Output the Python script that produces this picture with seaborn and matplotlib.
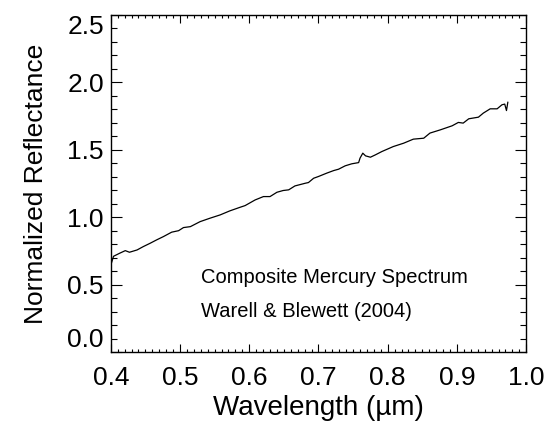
import numpy as np
import pandas as pd
import matplotlib
matplotlib.use("Agg")
import matplotlib.pyplot as plt
import seaborn as sns
from matplotlib.ticker import MultipleLocator

# Composite Mercury spectrum
wavelength = [0.400, 0.401, 0.404, 0.413, 0.421, 0.427, 0.438, 0.447, 0.457, 0.466,
              0.476, 0.488, 0.498, 0.505, 0.515, 0.529, 0.543, 0.558, 0.572, 0.587,
              0.594, 0.6085, 0.6205, 0.630, 0.640, 0.649, 0.657, 0.666, 0.681, 0.6855,
              0.693, 0.700, 0.712, 0.722, 0.729, 0.7385, 0.748, 0.758, 0.760, 0.764,
              0.768, 0.775, 0.782, 0.7915, 0.808, 0.823, 0.837, 0.852, 0.861, 0.876,
              0.893, 0.902, 0.909, 0.917, 0.931, 0.938, 0.948, 0.958, 0.965, 0.969,
              0.9715, 0.9735]
reflectance = [0.70, 0.66, 0.71, 0.733, 0.752, 0.740, 0.757, 0.782, 0.807, 0.831,
               0.856, 0.889, 0.900, 0.923, 0.930, 0.967, 0.992, 1.017, 1.047, 1.074,
               1.086, 1.128, 1.153, 1.153, 1.185, 1.198, 1.203, 1.232, 1.252, 1.257,
               1.289, 1.302, 1.327, 1.346, 1.356, 1.381, 1.396, 1.405, 1.438, 1.475,
               1.455, 1.445, 1.462, 1.487, 1.524, 1.549, 1.579, 1.586, 1.624, 1.648,
               1.678, 1.703, 1.698, 1.730, 1.742, 1.772, 1.804, 1.804, 1.834, 1.839,
               1.791, 1.854]

x_ticks = [0.4, 0.5, 0.6, 0.7, 0.8, 0.9, 1.0]
y_ticks = [0.0, 0.5, 1.0, 1.5, 2.0, 2.5]

df = pd.DataFrame({"Wavelength": wavelength, "Reflectance": reflectance})

sns.set_style("ticks")
plt.rcParams['font.family'] = ['Liberation Sans', 'DejaVu Sans']
plt.rcParams['text.color'] = 'black'
plt.rcParams['axes.labelcolor'] = 'black'
plt.rcParams['xtick.color'] = 'black'
plt.rcParams['ytick.color'] = 'black'

fig = plt.figure(figsize=(5.51, 4.26), dpi=100)
ax = fig.add_axes([0.201, 0.1737, 0.754, 0.7911])

sns.lineplot(data=df, x="Wavelength", y="Reflectance", ax=ax, color="black",
             linewidth=0.9, estimator=None, sort=False)

ax.set_xlim(0.4, 1.0)
ax.set_ylim(0.0, 2.5)
ax.set_xticks(x_ticks)
ax.set_yticks(y_ticks)
ax.set_xticklabels([f"{v:.1f}" for v in x_ticks])
ax.set_yticklabels([f"{v:.1f}" for v in y_ticks])
ax.xaxis.set_minor_locator(MultipleLocator(0.01))
ax.yaxis.set_minor_locator(MultipleLocator(0.1))

for s in ax.spines.values():
    s.set_visible(True)
    s.set_linewidth(1.0)
    s.set_color("black")

ax.tick_params(which="both", direction="in", top=True, right=True,
               color="black", labelcolor="black", width=0.8)
ax.tick_params(axis="x", which="major", length=6, labelsize=19, pad=10)
ax.tick_params(axis="x", which="minor", length=2.5)
ax.tick_params(axis="y", which="major", length=8, labelsize=19, pad=5)
ax.tick_params(axis="y", which="minor", length=4)

# IDL style: edge labels kept inside the axis range
ylabels = ax.get_yticklabels()
ylabels[0].set_verticalalignment("bottom")
ylabels[-1].set_verticalalignment("top")

ax.set_xlabel("Wavelength (µm)", fontsize=20, labelpad=4)
ax.set_ylabel("Normalized Reflectance", fontsize=19, labelpad=14)

ax.text(0.53, 0.55, "Composite Mercury Spectrum", fontsize=14.5, va="center", ha="left")
ax.text(0.53, 0.30, "Warell & Blewett (2004)", fontsize=14.5, va="center", ha="left")

fig.savefig("out.png", dpi=100)
